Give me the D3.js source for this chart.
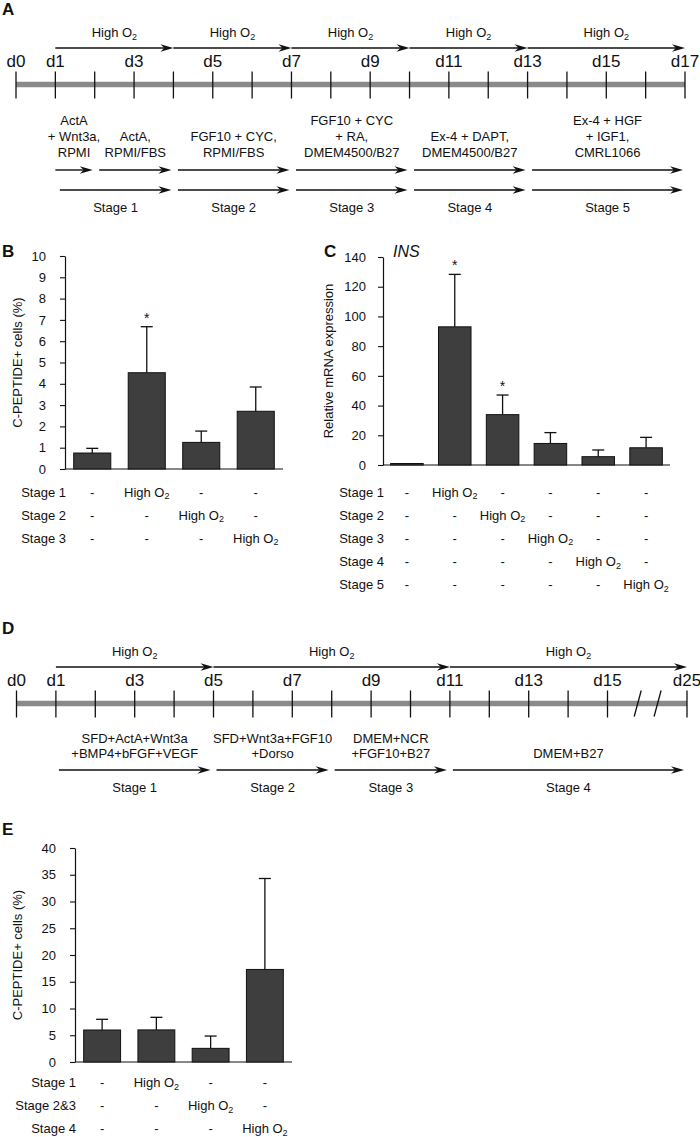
<!DOCTYPE html>
<html><head><meta charset="utf-8">
<script src="https://cdn.jsdelivr.net/npm/d3@7"></script>
<style>
body{margin:0;background:#fff}
svg{display:block}
text{font-family:"Liberation Sans",Arial,Helvetica,sans-serif;fill:#111}
</style>
</head><body>
<svg id="fig" width="700" height="1137"></svg>
<script>
// ---------- Panel A data ----------
const daysA = d3.range(0, 18);
const dayLabelsA = [0, 1, 3, 5, 7, 9, 11, 13, 15, 17];
const highO2SpansA = [[1, 4], [4, 7], [7, 10], [10, 13], [13, 17]];
const mediaSpansA = [[1, 2], [2, 4], [4, 7], [7, 10], [10, 13], [13, 17]];
const mediaTextA = [
  ["ActA", "+ Wnt3a,", "RPMI"],
  ["ActA,", "RPMI/FBS"],
  ["FGF10 + CYC,", "RPMI/FBS"],
  ["FGF10 + CYC", "+ RA,", "DMEM4500/B27"],
  ["Ex-4 + DAPT,", "DMEM4500/B27"],
  ["Ex-4 + HGF", "+ IGF1,", "CMRL1066"]
];
const stageSpansA = [[1, 4], [4, 7], [7, 10], [10, 13], [13, 17]];
const stageNamesA = ["Stage 1", "Stage 2", "Stage 3", "Stage 4", "Stage 5"];

// ---------- Panel B data ----------
const groupsB = ["g1", "g2", "g3", "g4"];
const meanB = [0.75, 4.52, 1.25, 2.71];
const errB = [0.22, 2.16, 0.53, 1.14];
const starB = [false, true, false, false];
const ticksB = d3.range(0, 11);
const rowNamesB = ["Stage 1", "Stage 2", "Stage 3"];
const cellsB = [
  ["-", "High O2", "-", "-"],
  ["-", "-", "High O2", "-"],
  ["-", "-", "-", "High O2"]
];

// ---------- Panel C data ----------
const groupsC = ["g1", "g2", "g3", "g4", "g5", "g6"];
const meanC = [1.0, 93.0, 33.9, 14.5, 5.6, 11.6];
const errC = [0, 35.3, 13.2, 7.3, 4.5, 7.0];
const starC = [false, true, true, false, false, false];
const ticksC = d3.range(0, 141, 20);
const rowNamesC = ["Stage 1", "Stage 2", "Stage 3", "Stage 4", "Stage 5"];
const cellsC = [
  ["-", "High O2", "-", "-", "-", "-"],
  ["-", "-", "High O2", "-", "-", "-"],
  ["-", "-", "-", "High O2", "-", "-"],
  ["-", "-", "-", "-", "High O2", "-"],
  ["-", "-", "-", "-", "-", "High O2"]
];

// ---------- Panel D data ----------
const daysD = d3.range(0, 16).concat([25]);
const dayLabelsD = [0, 1, 3, 5, 7, 9, 11, 13, 15, 25];
const highO2SpansD = [[1, 5], [5, 11], [11, 25]];
const stageSpansD = [[1, 5], [5, 8], [8, 11], [11, 25]];
const mediaTextD = [
  ["SFD+ActA+Wnt3a", "+BMP4+bFGF+VEGF"],
  ["SFD+Wnt3a+FGF10", "+Dorso"],
  ["DMEM+NCR", "+FGF10+B27"],
  ["DMEM+B27"]
];
const stageNamesD = ["Stage 1", "Stage 2", "Stage 3", "Stage 4"];
const breakDaysD = [18.8, 21.3];

// ---------- Panel E data ----------
const groupsE = ["g1", "g2", "g3", "g4"];
const meanE = [5.98, 6.0, 2.55, 17.3];
const errE = [2.0, 2.35, 2.3, 17.0];
const starE = [false, false, false, false];
const ticksE = d3.range(0, 41, 5);
const rowNamesE = ["Stage 1", "Stage 2&3", "Stage 4"];
const cellsE = [
  ["-", "High O2", "-", "-"],
  ["-", "-", "High O2", "-"],
  ["-", "-", "-", "High O2"]
];

// ================= drawing =================
const svg = d3.select("#fig");
const INK = "#111";

function label(sel, str) {
  if (str.endsWith("O2")) {
    sel.append("tspan").text(str.slice(0, -1));
    sel.append("tspan").attr("font-size", "9px").attr("dy", 2.5).text("2");
  } else {
    sel.text(str);
  }
}

function arrow(g, x1, x2, y) {
  g.append("line").attr("x1", x1).attr("x2", x2 - 8).attr("y1", y).attr("y2", y)
    .attr("stroke", INK).attr("stroke-width", 1.4);
  g.append("path")
    .attr("d", `M${x2},${y}L${x2 - 13},${y - 3.8}L${x2 - 9},${y}L${x2 - 13},${y + 3.8}Z`)
    .attr("fill", INK);
}

function panelLetter(t, x, y) {
  svg.append("text").attr("x", x).attr("y", y).attr("font-size", "17px")
    .attr("font-weight", "bold").text(t);
}

function timeline(cfg) {
  const x = cfg.x, g = svg.append("g");
  const first = cfg.days[0], last = cfg.days[cfg.days.length - 1];
  g.append("line").attr("x1", x(first)).attr("x2", x(last))
    .attr("y1", cfg.barY).attr("y2", cfg.barY)
    .attr("stroke", "#8a8a8a").attr("stroke-width", 5.5);
  g.selectAll(".tk").data(cfg.days).join("line")
    .attr("x1", d => x(d)).attr("x2", d => x(d))
    .attr("y1", cfg.barY - 13).attr("y2", cfg.barY + 14)
    .attr("stroke", INK).attr("stroke-width", 1.3);
  if (cfg.breaks) {
    cfg.breaks.forEach(b => {
      g.append("line").attr("x1", x(b) - 3.5).attr("x2", x(b) + 3.5)
        .attr("y1", cfg.barY + 13).attr("y2", cfg.barY - 13)
        .attr("stroke", INK).attr("stroke-width", 1.3);
    });
  }
  g.selectAll(".dl").data(cfg.labels).join("text")
    .attr("x", d => x(d)).attr("y", cfg.barY - 18)
    .attr("text-anchor", "middle").attr("font-size", "17px")
    .text(d => "d" + d);
  cfg.high.forEach(s => {
    arrow(g, x(s[0]), x(s[1]), cfg.highY);
    const t = g.append("text").attr("x", (x(s[0]) + x(s[1])) / 2).attr("y", cfg.highY - 11)
      .attr("text-anchor", "middle").attr("font-size", "13px");
    label(t, "High O2");
  });
  if (cfg.media) {
    cfg.mediaSpans.forEach((s, i) => {
      const x1 = x(s[0]) + (i === 0 ? cfg.firstGap : cfg.gap), x2 = x(s[1]) - cfg.tipGap;
      arrow(g, x1, x2, cfg.mediaY);
      const lines = cfg.media[i];
      lines.forEach((ln, k) => {
        g.append("text").attr("x", (x1 + x2) / 2)
          .attr("y", cfg.textBottom - (lines.length - 1 - k) * cfg.lineH)
          .attr("dy", "0.35em").attr("text-anchor", "middle").attr("font-size", "13px").text(ln);
      });
    });
  }
  cfg.stages.forEach((s, i) => {
    const x1 = x(s[0]) + cfg.stageGap, x2 = x(s[1]) - cfg.stageTip;
    if (cfg.stageY) arrow(g, x1, x2, cfg.stageY);
    g.append("text").attr("x", (x1 + x2) / 2).attr("y", cfg.stageLabelY).attr("dy", "0.35em")
      .attr("text-anchor", "middle").attr("font-size", "13px").text(cfg.stageNames[i]);
  });
}

function barChart(cfg) {
  const g = svg.append("g");
  const y = d3.scaleLinear().domain([cfg.ticks[0], cfg.ticks[cfg.ticks.length - 1]]).range([cfg.y0, cfg.y1]);
  const x = d3.scaleBand().domain(cfg.groups).range([cfg.x0, cfg.x1]).paddingInner(0.32).paddingOuter(0.16);
  const ax = g.append("g").attr("transform", `translate(${cfg.x0},0)`)
    .call(d3.axisLeft(y).tickValues(cfg.ticks).tickSize(5).tickSizeOuter(0).tickPadding(cfg.pad));
  ax.select(".domain").attr("stroke", INK).attr("stroke-width", 1.2);
  ax.selectAll(".tick line").attr("stroke", INK).attr("stroke-width", 1.1);
  ax.selectAll(".tick text").attr("font-size", "13px").attr("fill", INK)
    .attr("font-family", '"Liberation Sans",Arial,Helvetica,sans-serif');
  g.append("line").attr("x1", cfg.x0).attr("x2", cfg.x1).attr("y1", y(0)).attr("y2", y(0))
    .attr("stroke", INK).attr("stroke-width", 1.2);
  const bw = x.bandwidth();
  cfg.groups.forEach((gr, i) => {
    const v = cfg.mean[i], e = cfg.err[i], cx = x(gr) + bw / 2;
    if (e > 0) {
      g.append("line").attr("x1", cx).attr("x2", cx).attr("y1", y(v)).attr("y2", y(v + e))
        .attr("stroke", INK).attr("stroke-width", 1.3);
      g.append("line").attr("x1", cx - 6).attr("x2", cx + 6).attr("y1", y(v + e)).attr("y2", y(v + e))
        .attr("stroke", INK).attr("stroke-width", 1.3);
    }
    g.append("rect").attr("x", x(gr)).attr("y", y(v)).attr("width", bw).attr("height", y(0) - y(v))
      .attr("fill", "#3e3e3e").attr("stroke", INK).attr("stroke-width", 1);
    if (cfg.star[i]) {
      g.append("text").attr("x", cx).attr("y", y(v + e) - 4).attr("text-anchor", "middle")
        .attr("font-size", "14px").text("*");
    }
  });
  g.append("text").attr("transform", `translate(${cfg.ylabX},${(cfg.y0 + cfg.y1) / 2}) rotate(-90)`)
    .attr("text-anchor", "middle").attr("dy", "0.35em").attr("font-size", "13px").text(cfg.ylabel);
  cfg.rows.forEach((r, i) => {
    const yy = cfg.tableY + i * cfg.rowH;
    g.append("text").attr("x", cfg.x0 + 1).attr("y", yy).attr("dy", "0.35em")
      .attr("text-anchor", "end").attr("font-size", "13px").text(r);
    cfg.cells[i].forEach((c, j) => {
      const t = g.append("text").attr("x", x(cfg.groups[j]) + bw / 2).attr("y", yy).attr("dy", "0.35em")
        .attr("text-anchor", "middle").attr("font-size", "13px");
      label(t, c);
    });
  });
}

// Panel A
panelLetter("A", 2, 15);
timeline({
  x: d3.scaleLinear().domain([0, 17]).range([16, 685]),
  days: daysA, labels: dayLabelsA, barY: 84.5, highY: 48, high: highO2SpansA,
  media: mediaTextA, mediaSpans: mediaSpansA, mediaY: 170, textBottom: 152, lineH: 16,
  firstGap: 0, gap: 4.5, tipGap: 2,
  stages: stageSpansA, stageNames: stageNamesA, stageY: 190, stageLabelY: 207, stageGap: 4.5, stageTip: 2
});

// Panel B
panelLetter("B", 2, 257);
barChart({
  groups: groupsB, mean: meanB, err: errB, star: starB, ticks: ticksB,
  x0: 65, x1: 283, y0: 469, y1: 256, pad: 14, ylabX: 17,
  ylabel: "C-PEPTIDE+ cells (%)", rows: rowNamesB, cells: cellsB, tableY: 492, rowH: 23
});

// Panel C
panelLetter("C", 324, 257);
svg.append("text").attr("x", 393).attr("y", 257).attr("font-size", "16px").attr("font-style", "italic").text("INS");
barChart({
  groups: groupsC, mean: meanC, err: errC, star: starC, ticks: ticksC,
  x0: 383, x1: 670, y0: 465, y1: 257, pad: 12, ylabX: 328,
  ylabel: "Relative mRNA expression", rows: rowNamesC, cells: cellsC, tableY: 492, rowH: 23.2
});

// Panel D
panelLetter("D", 2, 634);
timeline({
  x: d3.scaleLinear().domain([0, 15, 25]).range([16.5, 607.5, 687]),
  days: daysD, labels: dayLabelsD, barY: 703.5, highY: 667, high: highO2SpansD, breaks: breakDaysD,
  media: mediaTextD, mediaSpans: stageSpansD, mediaY: 770, textBottom: 753, lineH: 15,
  firstGap: 3, gap: 3, tipGap: 3,
  stages: stageSpansD, stageNames: stageNamesD, stageY: null, stageLabelY: 787, stageGap: 3, stageTip: 3
});

// Panel E
panelLetter("E", 2, 835);
barChart({
  groups: groupsE, mean: meanE, err: errE, star: starE, ticks: ticksE,
  x0: 75, x1: 292, y0: 1062, y1: 848, pad: 14, ylabX: 17,
  ylabel: "C-PEPTIDE+ cells (%)", rows: rowNamesE, cells: cellsE, tableY: 1082.5, rowH: 23
});
</script>
</body></html>
